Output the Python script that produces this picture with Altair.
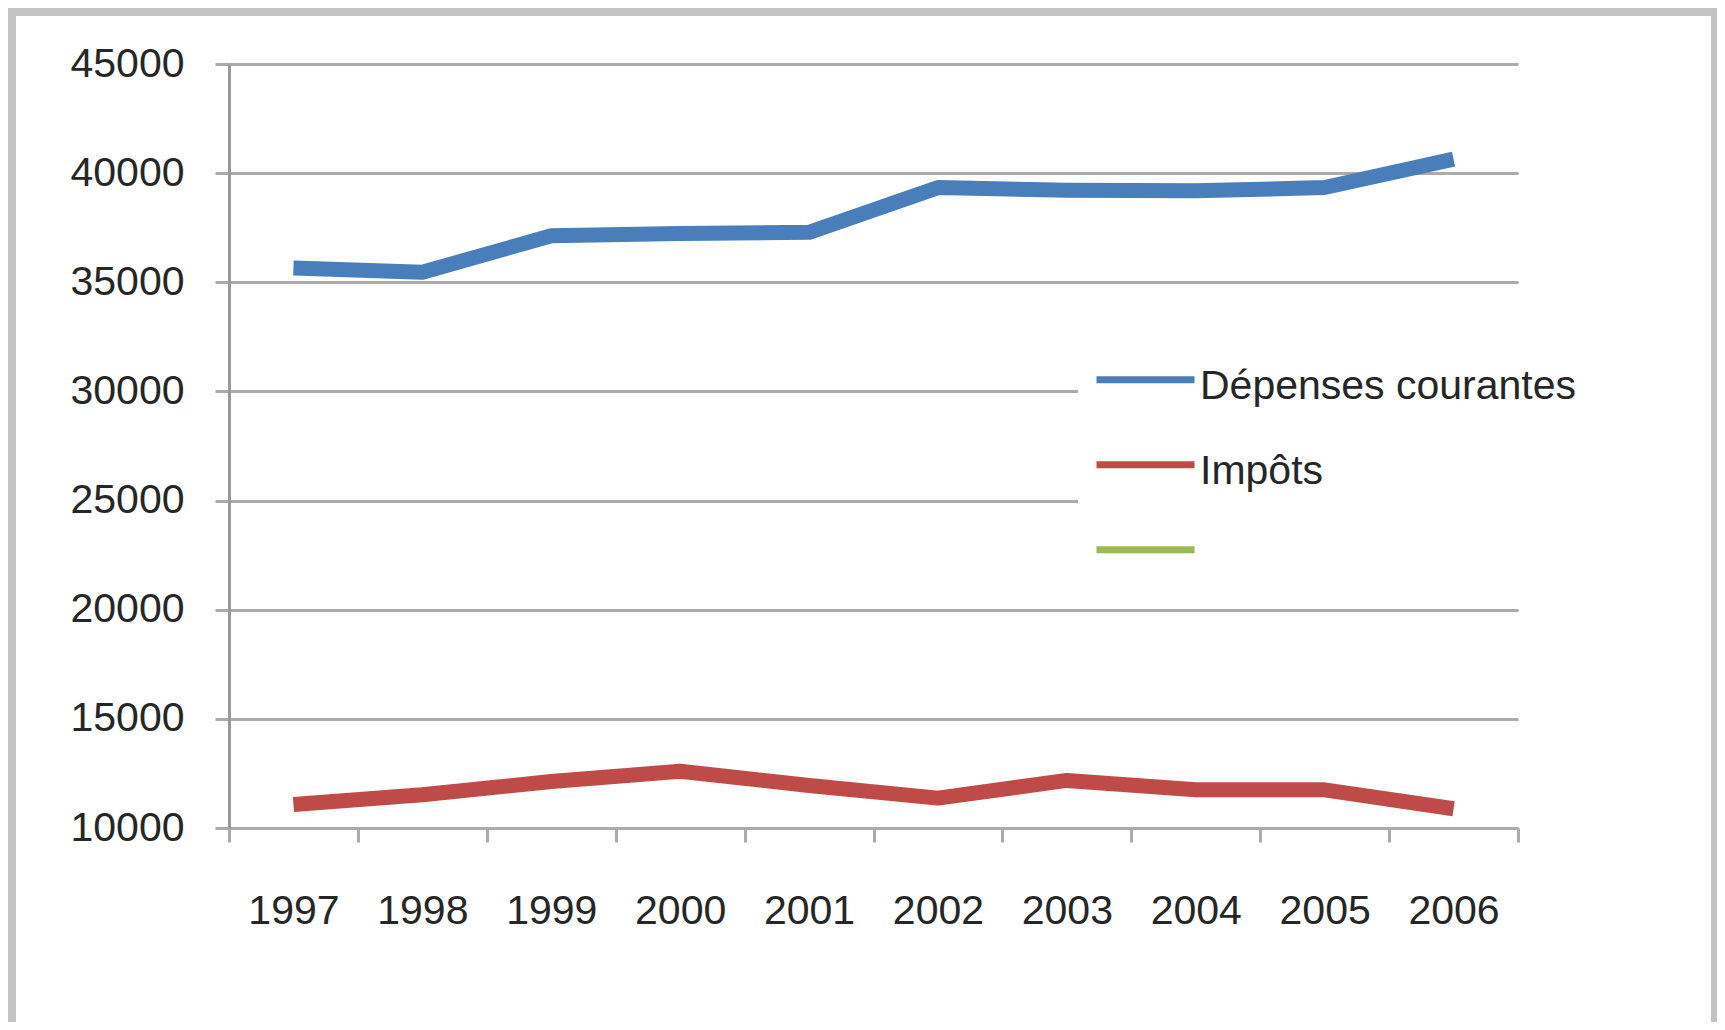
import altair as alt
import pandas as pd

years = ["1997", "1998", "1999", "2000", "2001", "2002", "2003", "2004", "2005", "2006"]
depenses = [35650, 35460, 37130, 37240, 37290, 39340, 39220, 39190, 39340, 40640]
impots = [11080, 11520, 12130, 12600, 11950, 11370, 12180, 11750, 11750, 10880]
series_names = ["Dépenses courantes", "Impôts", " "]
series_colors = ["#4a7ebb", "#be4b48", "#98b954"]
y_ticks = [10000, 15000, 20000, 25000, 30000, 35000, 40000, 45000]

rows = []
for yr, v in zip(years, depenses):
    rows.append({"Année": yr, "Valeur": v, "Série": series_names[0]})
for yr, v in zip(years, impots):
    rows.append({"Année": yr, "Valeur": v, "Série": series_names[1]})
df = pd.DataFrame(rows)

FONT = "Liberation Sans"
TXT = "#262626"
GRID = "#ababab"

W, H = 1289, 764
PAD = {"left": 221, "top": 56, "right": 199, "bottom": 194}

frame = alt.Chart(pd.DataFrame({"f": [0]})).mark_rect(
    fill="white", fillOpacity=0, stroke="#c3c3c3", strokeWidth=8
).encode(
    x=alt.value(-PAD["left"] + 4),
    x2=alt.value(W + PAD["right"] - 2),
    y=alt.value(-PAD["top"] + 4),
    y2=alt.value(H + PAD["bottom"] + 10),
)

lines = alt.Chart(df).mark_line(strokeWidth=15, strokeCap="butt", strokeJoin="round").encode(
    x=alt.X(
        "Année:O",
        sort=years,
        bandPosition=0.5,
        scale=alt.Scale(type="band", domain=years, paddingInner=0, paddingOuter=0),
        axis=alt.Axis(
            title=None,
            tickBand="extent",
            grid=False,
            domain=True,
            domainColor=GRID,
            domainWidth=3,
            ticks=True,
            tickSize=14,
            tickWidth=3,
            tickColor=GRID,
            labelFont=FONT,
            labelFontSize=41,
            labelColor=TXT,
            labelPadding=49,
            labelAngle=0,
        ),
    ),
    y=alt.Y(
        "Valeur:Q",
        scale=alt.Scale(domain=[10000, 45000], nice=False, zero=False),
        axis=alt.Axis(
            title=None,
            values=y_ticks,
            format="d",
            grid=True,
            gridColor=GRID,
            gridWidth=3,
            domain=True,
            domainColor="#999999",
            domainWidth=3,
            ticks=True,
            tickSize=14,
            tickWidth=3,
            tickColor=GRID,
            labelFont=FONT,
            labelFontSize=41,
            labelColor=TXT,
            labelPadding=31,
        ),
    ),
    color=alt.Color(
        "Série:N",
        scale=alt.Scale(domain=series_names, range=series_colors),
        legend=alt.Legend(
            title=None,
            orient="none",
            legendX=849,
            legendY=280,
            padding=15,
            fillColor="white",
            symbolType="M-1,-0.3H3",
            symbolSize=2401,
            symbolStrokeWidth=7,
            labelOffset=51,
            labelFont=FONT,
            labelFontSize=41,
            labelColor=TXT,
            rowPadding=37,
            labelLimit=600,
        ),
    ),
)

chart = alt.layer(frame, lines).properties(
    width=W,
    height=H,
    padding=PAD,
    autosize=alt.AutoSizeParams(type="none"),
    background="white",
).configure_view(stroke=None)

chart.save("out.html", embed_options={"renderer": "svg", "actions": False})
